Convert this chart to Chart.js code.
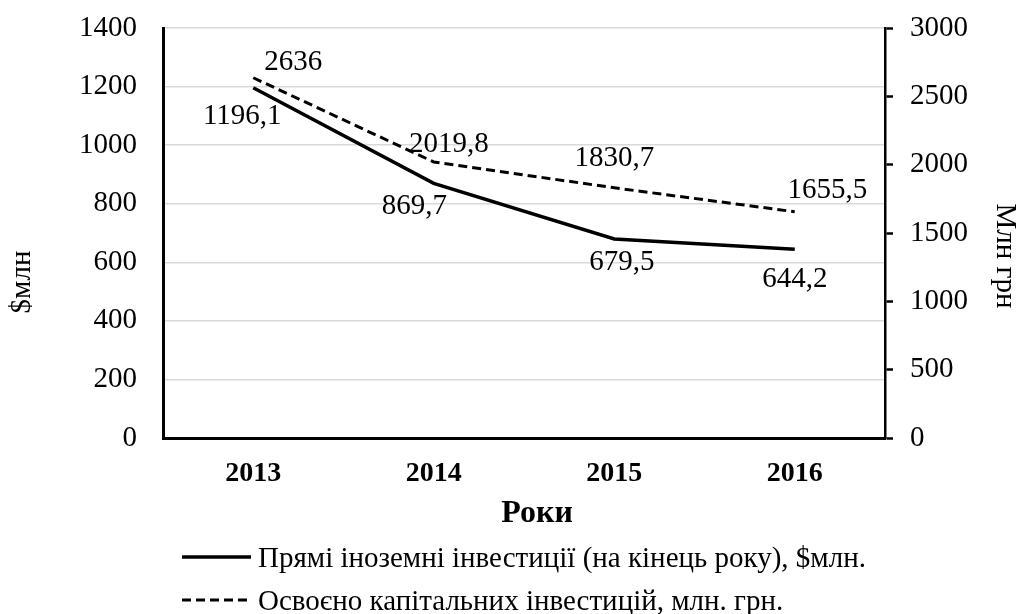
<!DOCTYPE html>
<html><head><meta charset="utf-8">
<script src="https://cdn.jsdelivr.net/npm/chart.js@4.4.1/dist/chart.umd.min.js"></script>
<style>html,body{margin:0;padding:0;background:#fff;overflow:hidden}canvas{display:block}</style>
</head><body>
<canvas id="c" width="1021" height="614"></canvas>
<script>
const categories = ['2013', '2014', '2015', '2016'];
const fdiValues = [1196.1, 869.7, 679.5, 644.2];
const capexValues = [2636, 2019.8, 1830.7, 1655.5];
const seriesNames = [
  'Прямі іноземні інвестиції (на кінець року), $млн.',
  'Освоєно капітальних інвестицій, млн. грн.'
];
const xTitle = 'Роки';
const yLeftTitle = '$млн';
const yRightTitle = 'Млн грн';
const leftRange = [0, 1400, 200];
const rightRange = [0, 3000, 500];

const FONT = '"Liberation Serif", "Times New Roman", serif';
const FS = 29;
const fmt = v => String(v).replace('.', ',');

const labelOffsets = [
  [[-11, 27], [-19.5, 21], [7.5, 21], [0, 28]],
  [[40, -17], [15, -20], [0, -31], [32.5, -23]]
];

const extras = {
  id: 'extras',
  afterDatasetsDraw(chart) {
    const ctx = chart.ctx;
    ctx.save();
    ctx.font = FS + 'px ' + FONT;
    ctx.fillStyle = '#000';
    ctx.textAlign = 'center';
    ctx.textBaseline = 'alphabetic';
    chart.data.datasets.forEach((ds, i) => {
      chart.getDatasetMeta(i).data.forEach((pt, j) => {
        const [dx, dy] = labelOffsets[i][j];
        ctx.fillText(fmt(ds.data[j]), pt.x + dx, pt.y + dy + 0.33 * FS);
      });
    });
    ctx.restore();
  },
  afterDraw(chart) {
    const ctx = chart.ctx;
    ctx.save();
    ctx.fillStyle = '#000';
    ctx.font = 'bold 32px ' + FONT;
    ctx.textAlign = 'center';
    ctx.textBaseline = 'alphabetic';
    ctx.fillText(xTitle, 537, 511 + 10.6);
    ctx.font = FS + 'px ' + FONT;
    ctx.textBaseline = 'middle';
    ctx.save();
    ctx.translate(22, 282);
    ctx.rotate(-Math.PI / 2);
    ctx.fillText(yLeftTitle, 0, 0);
    ctx.restore();
    ctx.save();
    ctx.translate(1005, 256);
    ctx.rotate(Math.PI / 2);
    ctx.fillText(yRightTitle, 0, 0);
    ctx.restore();
    const rows = [557, 600];
    ctx.textAlign = 'left';
    ctx.textBaseline = 'alphabetic';
    chart.data.datasets.forEach((ds, i) => {
      const y = rows[i];
      ctx.strokeStyle = ds.borderColor;
      ctx.lineWidth = ds.borderWidth;
      ctx.setLineDash(ds.borderDash || []);
      ctx.beginPath();
      ctx.moveTo(182, y);
      ctx.lineTo(251, y);
      ctx.stroke();
      ctx.setLineDash([]);
      ctx.fillText(ds.label, 258, y + 0.33 * FS);
    });
    ctx.restore();
  }
};

function noPad(s) { s.paddingTop = 0; s.paddingBottom = 0; s.paddingLeft = 0; s.paddingRight = 0; }

new Chart(document.getElementById('c'), {
  type: 'line',
  data: {
    labels: categories,
    datasets: [
      { label: seriesNames[0], data: fdiValues, yAxisID: 'y', borderColor: '#000', borderWidth: 3.5,
        pointRadius: 0, tension: 0, fill: false },
      { label: seriesNames[1], data: capexValues, yAxisID: 'y1', borderColor: '#000', borderWidth: 3,
        borderDash: [9, 5], pointRadius: 0, tension: 0, fill: false }
    ]
  },
  options: {
    responsive: false,
    animation: false,
    layout: { padding: { top: 28, left: 0, right: 0, bottom: 0 } },
    plugins: { legend: { display: false }, tooltip: { enabled: false } },
    scales: {
      x: {
        offset: true,
        grid: { display: false, drawTicks: false },
        border: { display: true, color: '#000', width: 3 },
        ticks: { color: '#000', font: { family: FONT, size: 28, weight: 'bold' }, padding: 19, maxRotation: 0 },
        afterFit(s) { s.height = 176; noPad(s); }
      },
      y: {
        position: 'left',
        min: leftRange[0], max: leftRange[1],
        grid: { color: '#d9d9d9', lineWidth: 1.5, drawTicks: false },
        border: { display: true, color: '#000', width: 3 },
        ticks: { stepSize: leftRange[2], color: '#000', font: { family: FONT, size: FS }, padding: 26,
          callback: v => String(v) },
        afterFit(s) { s.width = 163; noPad(s); }
      },
      y1: {
        position: 'right',
        min: rightRange[0], max: rightRange[1],
        grid: { drawOnChartArea: false, drawTicks: true, tickLength: 8, tickColor: '#000', tickWidth: 2.5 },
        border: { display: true, color: '#000', width: 2.5 },
        ticks: { stepSize: rightRange[2], color: '#000', font: { family: FONT, size: FS }, padding: 17,
          callback: v => String(v) },
        afterFit(s) { s.width = 136; noPad(s); }
      }
    }
  },
  plugins: [extras]
});
</script>
</body></html>
